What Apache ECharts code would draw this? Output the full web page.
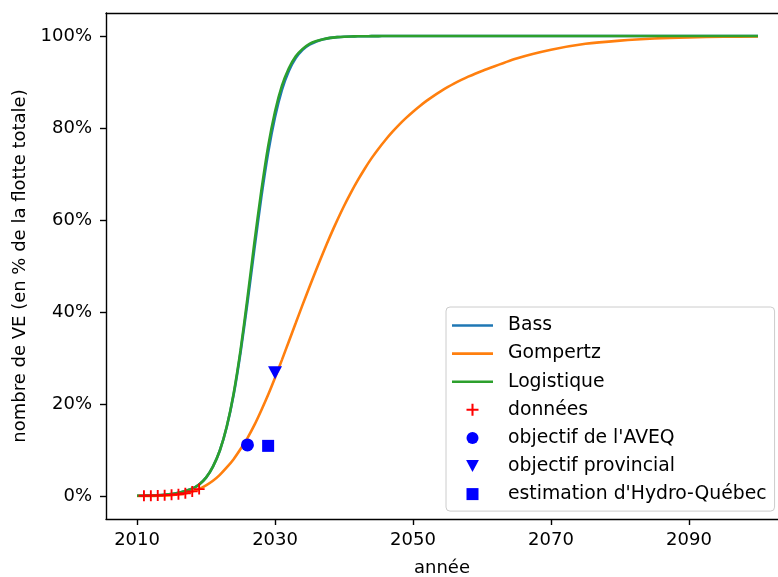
<!DOCTYPE html>
<html>
<head>
<meta charset="utf-8">
<script src="https://cdn.jsdelivr.net/npm/echarts@6/dist/echarts.min.js"></script>
<style>
  html, body { margin: 0; padding: 0; background: #ffffff; }
  #chart { width: 778px; height: 577px; }
</style>
</head>
<body>
<div id="chart"></div>
<script>
// Years at which the fitted diffusion curves are sampled
const years = [
  2010, 2011, 2012, 2013, 2014, 2015, 2016, 2017, 2018, 2019,
  2020, 2021, 2022, 2023, 2024, 2025, 2026, 2027, 2028, 2029,
  2030, 2031, 2032, 2033, 2034, 2035, 2036, 2037, 2038, 2039,
  2040, 2041, 2042, 2043, 2044, 2045, 2046, 2047, 2048, 2049,
  2050, 2051, 2052, 2053, 2054, 2055, 2056, 2057, 2058, 2059,
  2060, 2065, 2070, 2075, 2080, 2085, 2090, 2095, 2100
];

// Share of EVs in the total fleet (%) for each model
const bassValues = [
  0.04, 0.07, 0.10, 0.17, 0.27, 0.43, 0.70, 1.1, 1.6, 2.5,
  4.0, 6.4, 9.9, 15.0, 22.0, 31.2, 42.0, 53.6, 64.8, 74.6,
  82.4, 88.3, 92.4, 95.2, 97.0, 98.1, 98.8, 99.3, 99.6, 99.75,
  99.85, 99.9, 99.93, 99.95, 99.97, 99.98, 99.99, 99.99, 100, 100,
  100, 100, 100, 100, 100, 100, 100, 100, 100, 100,
  100, 100, 100, 100, 100, 100, 100, 100, 100
];
const gompertzValues = [
  0.0, 0.01, 0.02, 0.04, 0.09, 0.17, 0.32, 0.56, 0.95, 1.5,
  2.3, 3.3, 4.6, 6.2, 8.0, 10.2, 12.6, 15.4, 18.6, 22.0,
  25.7, 29.6, 33.6, 37.6, 41.6, 45.5, 49.3, 53.0, 56.55, 59.9,
  63.05, 65.95, 68.65, 71.15, 73.45, 75.5, 77.4, 79.15, 80.75, 82.2,
  83.55, 84.8, 85.95, 87.0, 87.97, 88.87, 89.7, 90.46, 91.16, 91.81,
  92.4, 95.1, 97.0, 98.3, 99.0, 99.45, 99.7, 99.83, 99.9
];
const logistiqueValues = [
  0.04, 0.07, 0.10, 0.17, 0.27, 0.43, 0.70, 1.1, 1.6, 2.5,
  4.0, 6.4, 9.9, 15.1, 22.3, 31.7, 43.0, 55.0, 66.2, 76.0,
  83.6, 89.2, 93.0, 95.6, 97.2, 98.3, 98.9, 99.3, 99.6, 99.75,
  99.85, 99.9, 99.93, 99.95, 99.97, 99.98, 99.99, 99.99, 100, 100,
  100, 100, 100, 100, 100, 100, 100, 100, 100, 100,
  100, 100, 100, 100, 100, 100, 100, 100, 100
];

// Observed fleet share
const dataYears = [2011, 2012, 2013, 2014, 2015, 2016, 2017, 2018, 2019];
const dataValues = [0.05, 0.08, 0.12, 0.18, 0.25, 0.37, 0.6, 1.0, 1.5];

// Policy targets and utility estimate
const aveqTarget = [2026, 11.1];
const provincialTarget = [2030, 26.8];
const hydroEstimate = [2029, 10.9];

// Tick labels
const xTicks = [2010, 2030, 2050, 2070, 2090];
const yTicks = [0, 20, 40, 60, 80, 100];

const pair = (xs, ys) => xs.map((x, i) => [x, ys[i]]);

const FONT = 'DejaVu Sans';
const lineIcon = 'path://M0,0 H41 V2.6 H0 Z';
const plusIcon = 'path://M4.15,0 H5.85 V4.15 H10 V5.85 H5.85 V10 H4.15 V5.85 H0 V4.15 H4.15 Z';
const triDownIcon = 'path://M0,0 L10,0 L5,9.4 Z';
const squareIcon = 'path://M0,0 H10 V10 H0 Z';

const chart = echarts.init(document.getElementById('chart'), null, { renderer: 'canvas' });

const lineSeries = (name, values, color, z) => ({
  name,
  type: 'line',
  data: pair(years, values),
  showSymbol: false,
  symbol: 'none',
  smooth: 0.25,
  lineStyle: { color, width: 2.6 },
  itemStyle: { color },
  z
});

chart.setOption({
  animation: false,
  backgroundColor: '#ffffff',
  textStyle: { fontFamily: FONT },
  grid: { left: 106, right: 0, top: 13, bottom: 58, containLabel: false, outerBoundsMode: 'none' },
  xAxis: [{
    type: 'value',
    min: 2005.5,
    max: 2102.9,
    name: 'année',
    nameLocation: 'middle',
    nameGap: 40,
    nameTextStyle: { fontFamily: FONT, fontSize: 18, color: '#000' },
    axisLine: { show: true, onZero: false, lineStyle: { color: '#000', width: 1.4 } },
    axisTick: { show: true, length: 6, customValues: xTicks, lineStyle: { color: '#000', width: 1.4 } },
    axisLabel: {
      customValues: xTicks, margin: 12, fontFamily: FONT, fontSize: 18, color: '#000',
      formatter: v => String(v)
    },
    splitLine: { show: false }
  }, {
    type: 'value',
    position: 'top',
    min: 2005.5,
    max: 2102.9,
    axisLine: { show: true, onZero: false, lineStyle: { color: '#000', width: 1.4 } },
    axisTick: { show: false },
    axisLabel: { show: false },
    splitLine: { show: false }
  }],
  yAxis: {
    type: 'value',
    min: -5,
    max: 105,
    name: 'nombre de VE (en % de la flotte totale)',
    nameLocation: 'middle',
    nameGap: 77,
    nameTextStyle: { fontFamily: FONT, fontSize: 18, color: '#000' },
    axisLine: { show: true, onZero: false, lineStyle: { color: '#000', width: 1.4 } },
    axisTick: { show: true, length: 6, customValues: yTicks, lineStyle: { color: '#000', width: 1.4 } },
    axisLabel: { customValues: yTicks, margin: 14, fontFamily: FONT, fontSize: 18, color: '#000', formatter: '{value}%' },
    splitLine: { show: false }
  },
  legend: {
    orient: 'vertical',
    left: 446,
    top: 307,
    itemWidth: 41,
    itemHeight: 12,
    itemGap: 9.1,
    padding: [9, 8, 7.5, 6],
    borderColor: '#cccccc',
    borderWidth: 1,
    borderRadius: 4,
    backgroundColor: 'rgba(255,255,255,0.8)',
    textStyle: { fontFamily: FONT, fontSize: 18.8, color: '#000', padding: [0, 0, 0, 10] },
    data: [
      { name: 'Bass', icon: lineIcon },
      { name: 'Gompertz', icon: lineIcon },
      { name: 'Logistique', icon: lineIcon },
      { name: 'données', icon: plusIcon },
      { name: "objectif de l'AVEQ", icon: 'circle' },
      { name: 'objectif provincial', icon: triDownIcon },
      { name: "estimation d'Hydro-Québec", icon: squareIcon }
    ]
  },
  series: [
    lineSeries('Bass', bassValues, '#1f77b4', 2),
    lineSeries('Gompertz', gompertzValues, '#ff7f0e', 3),
    lineSeries('Logistique', logistiqueValues, '#2ca02c', 4),
    {
      name: 'données',
      type: 'scatter',
      data: pair(dataYears, dataValues),
      symbol: plusIcon,
      symbolSize: 11,
      itemStyle: { color: '#ff0000', opacity: 1 },
      z: 5
    },
    {
      name: "objectif de l'AVEQ",
      type: 'scatter',
      data: [aveqTarget],
      symbol: 'circle',
      symbolSize: 13,
      itemStyle: { color: '#0000ff', opacity: 1 },
      z: 5
    },
    {
      name: 'objectif provincial',
      type: 'scatter',
      data: [provincialTarget],
      symbol: triDownIcon,
      symbolSize: [14, 13],
      itemStyle: { color: '#0000ff', opacity: 1 },
      z: 5
    },
    {
      name: "estimation d'Hydro-Québec",
      type: 'scatter',
      data: [hydroEstimate],
      symbol: squareIcon,
      symbolSize: 12,
      itemStyle: { color: '#0000ff', opacity: 1 },
      z: 5
    }
  ]
});
</script>
</body>
</html>
